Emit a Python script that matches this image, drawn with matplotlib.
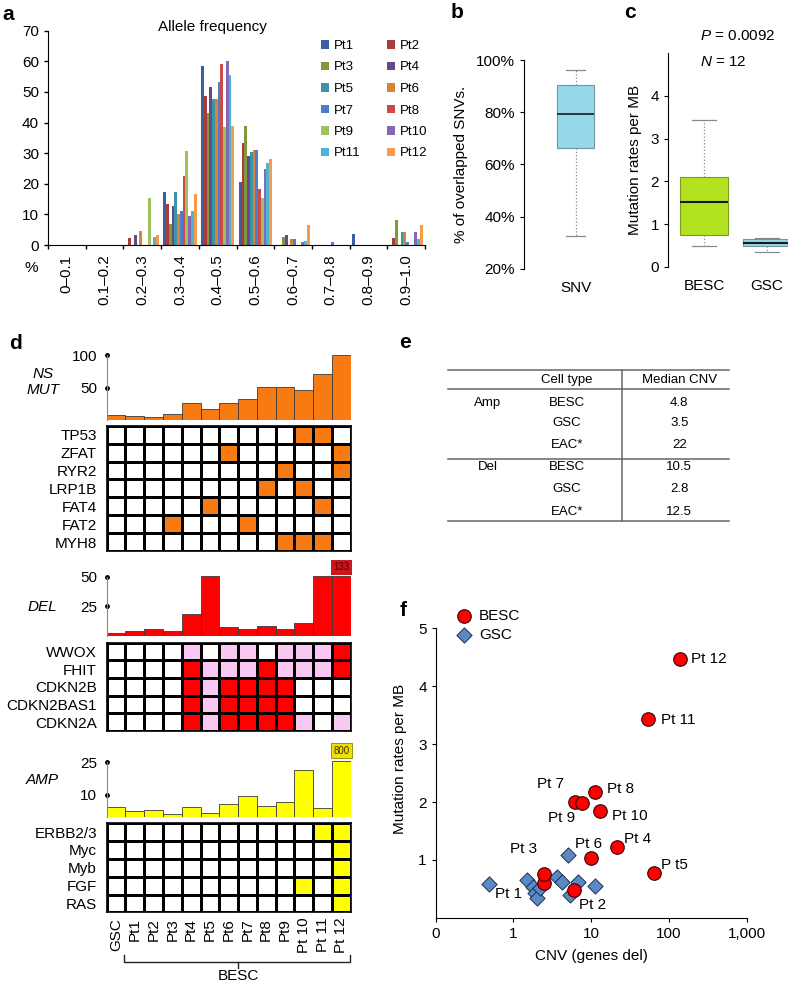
import numpy as np
import matplotlib
matplotlib.use('Agg')
import matplotlib.pyplot as plt
from matplotlib.colors import ListedColormap
from matplotlib.ticker import NullLocator
from matplotlib.transforms import blended_transform_factory

plt.rcParams['font.family'] = ['Liberation Sans', 'DejaVu Sans']
plt.rcParams['font.size'] = 11
plt.rcParams['mathtext.fontset'] = 'custom'
plt.rcParams['mathtext.it'] = 'Liberation Sans:italic'
plt.rcParams['mathtext.rm'] = 'Liberation Sans'

# ---- panel a: allele frequency (% of SNVs per bin) ----
af_bins = ['0–0.1', '0.1–0.2', '0.2–0.3', '0.3–0.4', '0.4–0.5',
           '0.5–0.6', '0.6–0.7', '0.7–0.8', '0.8–0.9', '0.9–1.0']
patients = ['Pt1', 'Pt2', 'Pt3', 'Pt4', 'Pt5', 'Pt6',
            'Pt7', 'Pt8', 'Pt9', 'Pt10', 'Pt11', 'Pt12']
pt1 = [0, 0, 0, 17.3, 58.5, 20.7, 0, 0, 3.5, 0]
pt2 = [0, 0, 2.2, 13.3, 48.7, 33.4, 0, 0, 0, 2.2]
pt3 = [0, 0, 0, 6.9, 43.0, 39.0, 2.6, 0, 0, 8.2]
pt4 = [0, 0, 3.3, 12.9, 51.5, 29.0, 3.2, 0, 0, 0]
pt5 = [0, 0, 0, 17.3, 47.8, 30.5, 0, 0, 0, 4.4]
pt6 = [0, 0, 4.5, 10.0, 47.8, 31.0, 2.1, 0, 0, 4.4]
pt7 = [0, 0, 0, 11.0, 53.3, 31.1, 2.1, 1.0, 0, 1.0]
pt8 = [0, 0, 0, 22.7, 59.0, 18.2, 0, 0, 0, 0]
pt9 = [0, 0, 15.4, 30.7, 38.4, 15.2, 0, 0, 0, 0]
pt10 = [0, 0, 0, 9.6, 60.2, 24.7, 1.0, 0, 0, 4.3]
pt11 = [0, 0, 2.7, 11.2, 55.6, 26.7, 1.3, 0, 0, 2.0]
pt12 = [0, 0, 3.2, 16.8, 38.8, 28.1, 6.5, 0, 0, 6.5]
af_series = [pt1, pt2, pt3, pt4, pt5, pt6, pt7, pt8, pt9, pt10, pt11, pt12]
pt_colors = ['#3A5FA3', '#A63D3B', '#80993F', '#634A8A', '#3B94A8', '#D98337',
             '#4C7FC9', '#CC4A47', '#9CC25A', '#8568B5', '#4BB5D6', '#F79B4A']

# ---- panel b / c: box stats ----
snv_box = dict(med=79.2, q1=66.4, q3=90.4, whislo=32.7, whishi=96.2, label='SNV')
besc_box = dict(med=1.52, q1=0.74, q3=2.09, whislo=0.49, whishi=3.44, label='BESC')
gsc_box = dict(med=0.56, q1=0.49, q3=0.64, whislo=0.34, whishi=0.68, label='GSC')

# ---- panel d ----
d_cols = ['GSC', 'Pt1', 'Pt2', 'Pt3', 'Pt4', 'Pt5', 'Pt6', 'Pt7', 'Pt8', 'Pt9',
          'Pt 10', 'Pt 11', 'Pt 12']
ns_mut = [7.7, 6.2, 5.1, 9.2, 25.6, 16.4, 25.6, 32.3, 50.8, 50.8, 46.2, 70.3, 100]
del_genes = [2.3, 4.5, 6.2, 4.2, 18.3, 55, 7.3, 5.6, 8.7, 5.6, 10.7, 50.6, 133]
amp_genes = [4.6, 2.6, 3.2, 1.1, 4.3, 1.5, 5.7, 9.6, 4.9, 6.6, 21.6, 3.8, 800]
del_cap = 50.6
amp_cap = 25.5

mut_rows = ['TP53', 'ZFAT', 'RYR2', 'LRP1B', 'FAT4', 'FAT2', 'MYH8']
mut_mat = [[0, 0, 0, 0, 0, 0, 0, 0, 0, 0, 1, 1, 0],
           [0, 0, 0, 0, 0, 0, 1, 0, 0, 0, 0, 0, 1],
           [0, 0, 0, 0, 0, 0, 0, 0, 0, 1, 0, 0, 1],
           [0, 0, 0, 0, 0, 0, 0, 0, 1, 0, 1, 0, 0],
           [0, 0, 0, 0, 0, 1, 0, 0, 0, 0, 0, 1, 0],
           [0, 0, 0, 1, 0, 0, 0, 1, 0, 0, 0, 0, 0],
           [0, 0, 0, 0, 0, 0, 0, 0, 0, 1, 1, 1, 0]]
del_rows = ['WWOX', 'FHIT', 'CDKN2B', 'CDKN2BAS1', 'CDKN2A']
del_mat = [[0, 0, 0, 0, 1, 0, 1, 1, 0, 1, 1, 1, 2],
           [0, 0, 0, 0, 2, 1, 1, 1, 2, 1, 1, 1, 2],
           [0, 0, 0, 0, 2, 1, 2, 2, 2, 2, 0, 0, 0],
           [0, 0, 0, 0, 2, 1, 2, 2, 2, 2, 0, 0, 0],
           [0, 0, 0, 0, 2, 1, 2, 2, 2, 2, 1, 0, 1]]
amp_rows = ['ERBB2/3', 'Myc', 'Myb', 'FGF', 'RAS']
amp_mat = [[0, 0, 0, 0, 0, 0, 0, 0, 0, 0, 0, 1, 1],
           [0, 0, 0, 0, 0, 0, 0, 0, 0, 0, 0, 0, 1],
           [0, 0, 0, 0, 0, 0, 0, 0, 0, 0, 0, 0, 1],
           [0, 0, 0, 0, 0, 0, 0, 0, 0, 0, 1, 0, 1],
           [0, 0, 0, 0, 0, 0, 0, 0, 0, 0, 0, 0, 1]]

# ---- panel e ----
e_kinds = ['Amp', 'Del']
e_types = ['BESC', 'GSC', 'EAC*']
amp_median = [4.8, 3.5, 22]
del_median = [10.5, 2.8, 12.5]

# ---- panel f ----
besc_names = ['Pt 1', 'Pt 2', 'Pt 3', 'Pt 4', 'P t5', 'Pt 6', 'Pt 7', 'Pt 8',
              'Pt 9', 'Pt 10', 'Pt 11', 'Pt 12']
besc_cnv = [2.48, 6.04, 2.48, 21.4, 64.7, 10.0, 6.2, 11.3, 7.6, 13.1, 53.7, 137]
besc_rate = [0.60, 0.48, 0.75, 1.22, 0.78, 1.03, 2.00, 2.17, 1.99, 1.84, 3.44, 4.47]
gsc_cnv = [0.49, 1.49, 1.78, 1.90, 2.0, 2.2, 3.62, 4.2, 5.0, 5.37, 6.7, 11.3]
gsc_rate = [0.58, 0.65, 0.54, 0.43, 0.34, 0.51, 0.71, 0.62, 1.08, 0.39, 0.62, 0.55]
# label offsets in points (dx, dy, ha)
label_offsets = [(-25.7, -7.7, 'center'), (13.2, -10.8, 'center'), (-14.9, 18.2, 'center'),
                 (4.8, 6, 'left'), (4.8, 5.5, 'left'), (-1.9, 10.1, 'center'),
                 (-17.5, 13.2, 'center'), (8.4, 2.2, 'left'), (-14.4, -11.2, 'center'),
                 (8.4, -3.6, 'left'), (9.6, -1, 'left'), (8.4, 0, 'left')]

W, H = 788, 986
fig = plt.figure(figsize=(W / 100, H / 100), dpi=100)


def add_ax(x0, y0, x1, y1):
    return fig.add_axes([x0 / W, 1 - y1 / H, (x1 - x0) / W, (y1 - y0) / H])


def ftext(x, y, s, **kw):
    kw.setdefault('ha', 'center')
    kw.setdefault('va', 'center')
    fig.text(x / W, 1 - y / H, s, **kw)


for letter, lx, ly in [('a', 8, 15), ('b', 457, 13), ('c', 630, 13),
                       ('d', 15, 344), ('e', 405, 343), ('f', 403, 611)]:
    ftext(lx, ly, letter, fontsize=15, fontweight='bold')

# ================= a =================
ax = add_ax(48, 30.7, 425, 245)
bw = 0.88 / len(patients)
bars = []
for i, vals in enumerate(af_series):
    bars.append(ax.bar(np.arange(len(af_bins)) + 0.06 + (i + 0.5) * bw, vals,
                       width=bw, color=pt_colors[i], label=patients[i]))
ax.set_xlim(0, len(af_bins))
ax.set_ylim(0, 70)
ax.set_yticks(range(0, 71, 10))
ax.set_xticks(range(len(af_bins) + 1))
ax.set_xticklabels([])
ax.set_xticks(np.arange(len(af_bins)) + 0.5, minor=True)
ax.set_xticklabels(af_bins, minor=True, rotation=90)
ax.tick_params(which='major', direction='out', length=3, width=1)
ax.tick_params(axis='x', which='minor', length=0, pad=7)
for s in ['top', 'right']:
    ax.spines[s].set_visible(False)
ftext(212, 27, 'Allele frequency')
ftext(31.7, 268, '%')
order = list(range(0, 12, 2)) + list(range(1, 12, 2))
ax.legend([bars[i] for i in order], [patients[i] for i in order], ncol=2,
          loc='upper left', bbox_to_anchor=(320.7 / W, 1 - 40 / H),
          bbox_transform=fig.transFigure, frameon=False, fontsize=9.5,
          handlelength=0.6, handleheight=0.6, handletextpad=0.4,
          columnspacing=2.0, labelspacing=0.72, borderaxespad=0, borderpad=0)

# ================= b =================
axb = add_ax(524, 60, 627, 269)
axb.bxp([snv_box], positions=[0.5], widths=0.36, capwidths=[0.175],
        patch_artist=True, showfliers=False,
        boxprops=dict(facecolor='#97D7EA', edgecolor='#6C98A3', linewidth=0.8),
        medianprops=dict(color='#1a1a1a', linewidth=1.2),
        whiskerprops=dict(linestyle=':', color='#8a8a8a', linewidth=0.9),
        capprops=dict(color='#8a8a8a', linewidth=0.9))
axb.set_xlim(0, 1)
axb.set_ylim(20, 100)
axb.set_yticks([20, 40, 60, 80, 100])
axb.set_yticklabels([f'{v}%' for v in [20, 40, 60, 80, 100]])
for s in ['top', 'right', 'bottom']:
    axb.spines[s].set_visible(False)
axb.tick_params(axis='y', direction='out', length=3)
axb.tick_params(axis='x', length=0, pad=9)
axb.set_ylabel('% of overlapped SNVs.', labelpad=6)

# ================= c =================
axc = add_ax(668, 53.3, 788, 266.7)
axc.bxp([besc_box, gsc_box], positions=[1, 2], widths=0.76, capwidths=[0.38, 0.37],
        patch_artist=True, showfliers=False,
        medianprops=dict(color='#1a1a1a', linewidth=1.5),
        whiskerprops=dict(linestyle=':', color='#8a8a8a', linewidth=0.9),
        capprops=dict(color='#8a8a8a', linewidth=0.9))
box_cols = ['#B3E320', '#97D7EA']
box_edges = ['#7A9A20', '#6C98A3']
for patch, fc, ec in zip(axc.patches, box_cols, box_edges):
    patch.set_facecolor(fc)
    patch.set_edgecolor(ec)
    patch.set_linewidth(0.8)
axc.set_xlim(0.429, 2.333)
axc.set_ylim(0, 5)
axc.set_yticks([0, 1, 2, 3, 4])
for s in ['top', 'right', 'bottom']:
    axc.spines[s].set_visible(False)
axc.tick_params(axis='y', direction='out', length=3)
axc.tick_params(axis='x', length=0, pad=9)
axc.set_ylabel('Mutation rates per MB', labelpad=6)
ftext(700, 36, '$P$ = 0.0092', ha='left')
ftext(700, 62, '$N$ = 12', ha='left')

# ================= d =================
col_x = np.arange(len(d_cols)) + 0.5
orange = '#F77A12'
red = '#FF0000'
pink = '#F9C9F3'
yellow = '#FFFF00'


def bar_panel(y0, y1, vals, ymax, color, ticks):
    a = add_ax(106.7, y0, 350.7, y1)
    a.bar(col_x, vals, width=1, color=color, edgecolor='#3a3a3a', linewidth=0.6)
    a.set_xlim(0, len(d_cols))
    a.set_ylim(0, ymax)
    for s in ['top', 'right', 'bottom']:
        a.spines[s].set_visible(False)
    a.spines['left'].set_bounds(0, max(ticks))
    a.spines['left'].set_color('#888888')
    a.spines['left'].set_linewidth(0.8)
    a.set_xticks([])
    a.set_yticks(ticks)
    a.tick_params(axis='y', length=0, pad=7)
    a.plot(np.zeros(len(ticks)), ticks, 'o', color='black', ms=2.5, clip_on=False)
    return a


def grid_panel(y0, y1, mat, rows, colors):
    a = add_ax(106.7, y0, 350.7, y1)
    a.pcolormesh(np.array(mat), cmap=ListedColormap(colors), vmin=-0.5,
                 vmax=len(colors) - 0.5, edgecolors='black', linewidth=1.0)
    a.set_xlim(0, len(d_cols))
    a.set_ylim(len(rows), 0)
    a.set_yticks(np.arange(len(rows)) + 0.5)
    a.set_yticklabels(rows)
    a.set_xticks([])
    a.tick_params(length=0, pad=7)
    for sp in a.spines.values():
        sp.set_linewidth(1.2)
    return a


bar_panel(350, 420, ns_mut, 107.7, orange, [50, 100])
ftext(43, 382, 'NS\nMUT', style='italic', linespacing=1.1)
grid_panel(425.7, 551, mut_mat, mut_rows, ['white', orange])

ax_del = bar_panel(560, 636, np.minimum(del_genes, del_cap), 64.1, red, [25, 50])
ax_del.text(col_x[-1], 57.8, f'{del_genes[-1]}', ha='center', va='center', fontsize=7,
            color='#4a0000', clip_on=False,
            bbox=dict(boxstyle='square,pad=0.25', fc='#D0161D', ec='none'))
ftext(42, 607, 'DEL', style='italic')
grid_panel(642.7, 731, del_mat, del_rows, ['white', pink, red])

ax_amp = bar_panel(755, 816.7, np.minimum(amp_genes, amp_cap), 28.35, yellow, [10, 25])
ax_amp.text(col_x[-1], 30.3, f'{amp_genes[-1]}', ha='center', va='center', fontsize=7,
            color='#3a3300', clip_on=False,
            bbox=dict(boxstyle='square,pad=0.25', fc='#EEE000', ec='#8A7F00', lw=0.6))
ftext(42, 780, 'AMP', style='italic')
ax_ag = grid_panel(823.3, 912.3, amp_mat, amp_rows, ['white', yellow])
ax_ag.set_xticks(col_x)
ax_ag.set_xticklabels(d_cols, rotation=90)
ax_ag.tick_params(axis='x', length=0, pad=4)

# bracket under BESC columns
tr = blended_transform_factory(ax_ag.transData, ax_ag.transAxes)
bl, br = 1 - 0.08, len(d_cols) - 0.05
bmid = (1 + len(d_cols)) / 2
ax_ag.plot([bl, bl, br, br], [-0.48, -0.558, -0.558, -0.48], color='#222', lw=1,
           transform=tr, clip_on=False)
ax_ag.plot([bmid, bmid], [-0.558, -0.63], color='#222', lw=1, transform=tr, clip_on=False)
ftext(238, 976, 'BESC')

# ================= e =================
axe = add_ax(400, 340, 788, 540)
axe.set_xlim(400, 788)
axe.set_ylim(540, 340)
axe.axis('off')
tl, trt = 448.3, 729.3
for yy in [370, 389, 459, 521]:
    axe.plot([tl, trt], [yy, yy], color='#666', lw=1.1)
axe.plot([621.7, 621.7], [370, 521], color='#666', lw=1.1)
axe.text(566.7, 380, 'Cell type', ha='center', va='center', fontsize=9.5)
axe.text(679.3, 380, 'Median CNV', ha='center', va='center', fontsize=9.5)
for kind, vals, ys in [(e_kinds[0], amp_median, [403.3, 422.7, 445]),
                       (e_kinds[1], del_median, [467.3, 489, 511.7])]:
    axe.text(488, ys[0], kind, ha='center', va='center', fontsize=9.5)
    for t, v, yy in zip(e_types, vals, ys):
        axe.text(566.7, yy, t, ha='center', va='center', fontsize=9.5)
        axe.text(679.3, yy, f'{v:g}', ha='center', va='center', fontsize=9.5)

# ================= f =================
axf = add_ax(435.7, 599.4, 746.7, 917.8)
axf.scatter(gsc_cnv, gsc_rate, marker='D', s=60, c='#5A89C5', edgecolors='#1f3050',
            linewidths=0.7, zorder=2, label='GSC')
axf.scatter(besc_cnv, besc_rate, marker='o', s=95, c='#FF0000', edgecolors='#3a0000',
            linewidths=0.8, zorder=3, label='BESC')
axf.set_xscale('log')
axf.set_xlim(0.1, 1000)
axf.set_ylim(0, 5.5)
axf.set_xticks([0.1, 1, 10, 100, 1000])
axf.set_xticklabels(['0', '1', '10', '100', '1,000'])
axf.xaxis.set_minor_locator(NullLocator())
axf.set_yticks([1, 2, 3, 4, 5])
for s in ['top', 'right']:
    axf.spines[s].set_visible(False)
axf.spines['left'].set_bounds(0, 5)
axf.tick_params(direction='out', length=3)
axf.set_xlabel('CNV (genes del)', labelpad=6)
axf.set_ylabel('Mutation rates per MB', labelpad=8)
for name, x, y, (dx, dy, ha) in zip(besc_names, besc_cnv, besc_rate, label_offsets):
    axf.annotate(name, (x, y), xytext=(dx, dy), textcoords='offset points',
                 ha=ha, va='center', fontsize=11)
h, l = axf.get_legend_handles_labels()
axf.legend(h[::-1], l[::-1], loc='upper left', bbox_to_anchor=(456 / W, 1 - 609 / H),
           bbox_transform=fig.transFigure, frameon=False, handlelength=1,
           handletextpad=0.5, labelspacing=0.3, borderaxespad=0, borderpad=0)

fig.savefig('out.png', dpi=100)
